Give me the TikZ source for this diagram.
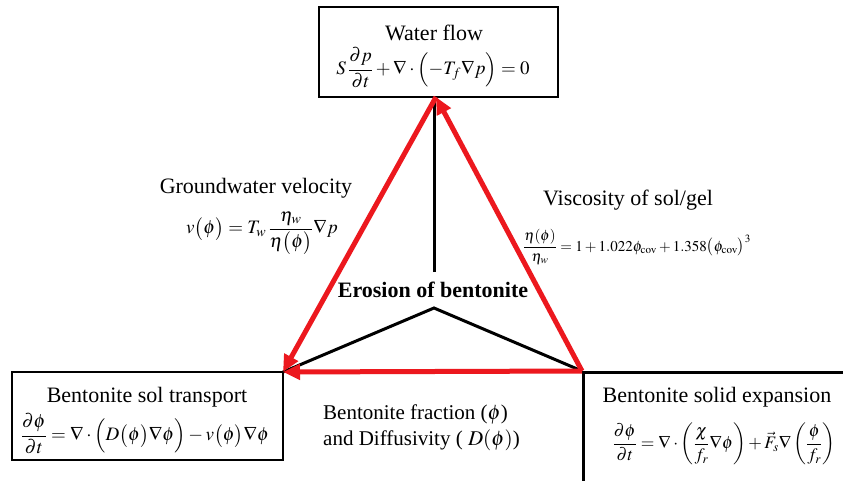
\documentclass[tikz,border=0pt]{standalone}
\usepackage{amsmath}
\usepackage{mathptmx}
\usepackage{fontspec}
\setmainfont{Liberation Serif}
\usetikzlibrary{arrows.meta}
\definecolor{arrred}{RGB}{236,24,30}
\begin{document}
\begin{tikzpicture}[x=1pt,y=-1pt,
  boxst/.style={draw=black, line width=2.8pt, inner sep=0pt, fill=none},
  lbl/.style={inner sep=0pt, font=\fontsize{22}{26}\selectfont},
  eqn/.style={inner sep=0pt, font=\fontsize{19}{23}\selectfont},
  eqs/.style={inner sep=0pt, font=\fontsize{15}{18}\selectfont},
  redarr/.style={draw=arrred, line width=5pt, -{Triangle[length=17pt,width=15pt]}},
  blk/.style={draw=black, line width=3pt}]
\path[use as bounding box] (0,0) rectangle (843,480);
\clip (0,0) rectangle (843,480);
\fill[white] (0,0) rectangle (843,480);

% boxes
\node[boxst, minimum width=239pt, minimum height=90pt] (top) at (438.5,52) {};
\node[boxst, minimum width=271pt, minimum height=88pt] (left) at (147.5,416) {};
\node[boxst, minimum width=300pt, minimum height=140pt, anchor=north west] (right) at (582,371) {};

% triangle corners
\coordinate (A) at (436,97);
\coordinate (L) at (283,372);
\coordinate (R) at (582,371);
\coordinate (B) at (434,272);
\coordinate (W) at (434,308);
\coordinate (At) at (434,97);

% black lines
\draw[blk] (B) -- (At);
\draw[blk] (L) -- (W) -- (R);

% red arrows
\draw[redarr] (R) -- (A);
\draw[redarr] (A) -- (L);
\draw[redarr] (R) -- (L);

% texts
\node[lbl, anchor=base] (t1) at (434,40) {Water flow};
\node[eqn] (e1) at (433,68) {$S\,\dfrac{\partial p}{\partial t}+\nabla\cdot\Bigl(-T_f\nabla p\Bigr)=0$};

\node[lbl, anchor=base] (t2) at (256,193) {Groundwater velocity};
\node[eqn] (e2) at (262,233) {$v\bigl(\phi\bigr)=T_w\,\dfrac{\eta_w}{\eta\bigl(\phi\bigr)}\nabla p$};

\node[lbl, anchor=base] (t3) at (628,205) {Viscosity of sol/gel};
\node[eqs] (e3) at (637,247) {$\dfrac{\eta(\phi)}{\eta_w}=1+1.022\phi_{\mathrm{cov}}+1.358\bigl(\phi_{\mathrm{cov}}\bigr)^3$};

\node[lbl, anchor=base, font=\fontsize{22}{26}\selectfont\bfseries] (t4) at (433,297) {Erosion of bentonite};

\node[lbl, anchor=base] (t5) at (147,402) {Bentonite sol transport};
\node[eqn] (e5) at (145,434) {$\dfrac{\partial\phi}{\partial t}=\nabla\cdot\Bigl(D\bigl(\phi\bigr)\nabla\phi\Bigr)-v\bigl(\phi\bigr)\nabla\phi$};

\node[lbl, anchor=base] (t6) at (717,402) {Bentonite solid expansion};
\node[eqs, font=\fontsize{17.5}{21}\selectfont] (e6) at (724,444) {$\dfrac{\partial\phi}{\partial t}=\nabla\cdot\left(\dfrac{\chi}{f_r}\nabla\phi\right)+\vec{F}_s\nabla\left(\dfrac{\phi}{f_r}\right)$};

\node[lbl, anchor=base west, font=\fontsize{21}{25}\selectfont] (t7) at (323,419) {Bentonite fraction ($\phi$)};
\node[lbl, anchor=base west, font=\fontsize{21}{25}\selectfont] (t8) at (323,445) {and Diffusivity ( $D(\phi)$)};
\end{tikzpicture}
\end{document}
